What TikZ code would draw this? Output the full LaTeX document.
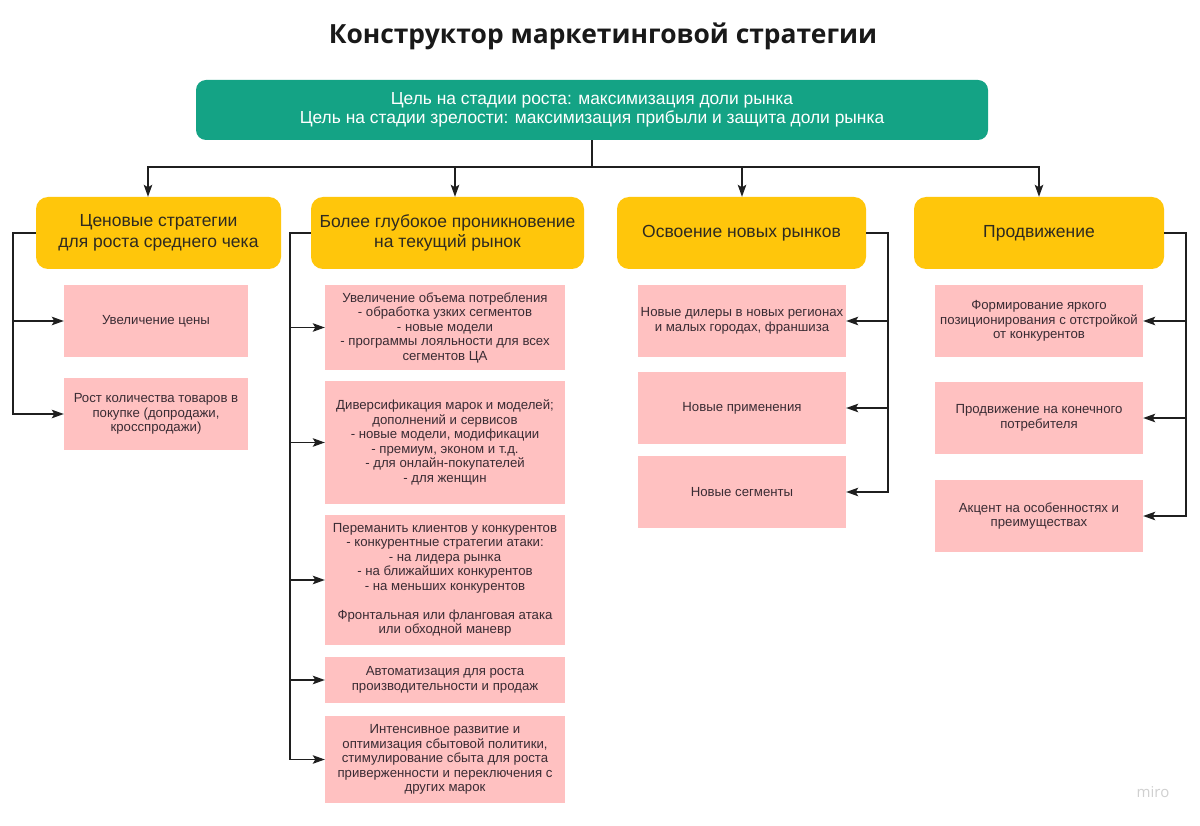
\documentclass[tikz,border=0pt]{standalone}
\usepackage{fontspec}
\setmainfont{Liberation Sans}
\newfontfamily\titlefont{Open Sans}
\usetikzlibrary{arrows.meta,calc}
\definecolor{topgreen}{HTML}{14A385}
\definecolor{ybox}{HTML}{FFC60B}
\definecolor{pbox}{HTML}{FFC1C1}
\definecolor{ptext}{HTML}{3A2C34}
\definecolor{ytext}{HTML}{2E2A20}
\definecolor{mirogray}{HTML}{D0D0D0}
\tikzset{
  arr/.style={draw=black!88, line width=1.6pt, -{Stealth[length=12pt,width=8.5pt,inset=2.5pt]}},
  topbox/.style={fill=topgreen, rounded corners=10pt, minimum width=792pt, minimum height=60pt, text=white, font=\fontsize{17.4}{19}\selectfont, align=center},
  ybox/.style={fill=ybox, rounded corners=12pt, minimum height=72pt, text=ytext, font=\fontsize{17.5}{20.5}\selectfont, align=center, inner sep=0pt},
  pbox/.style={fill=pbox, text=ptext, font=\fontsize{13.2}{14.5}\selectfont, align=center, inner sep=0pt},
}
\begin{document}
\begin{tikzpicture}[x=1pt,y=-1pt]
\useasboundingbox (0,0) rectangle (1200,826);
\fill[white] (0,0) rectangle (1200,826);

\node[font=\titlefont\bfseries\fontsize{26.4}{30}\selectfont, text=black!90] (title) at (603,36) {Конструктор маркетинговой стратегии};

\node[topbox] (top) at (592,110) {Цель на стадии роста: максимизация доли рынка\\Цель на стадии зрелости: максимизация прибыли и защита доли рынка};

\node[ybox, minimum width=245pt] (y1) at (158.5,233) {Ценовые стратегии\\для роста среднего чека};
\node[ybox, minimum width=273pt] (y2) at (447.5,233) {Более глубокое проникновение\\на текущий рынок};
\node[ybox, minimum width=249pt] (y3) at (741.5,233) {Освоение новых рынков};
\node[ybox, minimum width=250pt] (y4) at (1039,233) {Продвижение};

\coordinate (hub) at ($(top.south)+(0,27)$);
\draw[arr] (top.south) -- (hub) -| ([xshift=-10.5pt]y1.north);
\draw[arr] (hub) -| ([xshift=7.5pt]y2.north);
\draw[arr] (hub) -| ([xshift=0.5pt]y3.north);
\draw[arr] (hub) -| (y4.north);

% column 1
\node[pbox, minimum width=184pt, minimum height=72pt] (p11) at (156,321) {Увеличение цены};
\node[pbox, minimum width=184pt, minimum height=72pt] (p12) at (156,414) {Рост количества товаров в\\покупке (допродажи,\\кросспродажи)};
\coordinate (c1) at ($(y1.west)+(-23,0)$);
\draw[arr] (y1.west) -- (c1) |- (p11.west);
\draw[arr] (c1) |- (p12.west);

% column 2
\node[pbox, minimum width=240pt, minimum height=85pt] (p21) at (445,327.5) {Увеличение объема потребления\\- обработка узких сегментов\\- новые модели\\- программы лояльности для всех\\сегментов ЦА};
\node[pbox, minimum width=240pt, minimum height=123pt] (p22) at (445,442.5) {Диверсификация марок и моделей;\\дополнений и сервисов\\- новые модели, модификации\\- премиум, эконом и т.д.\\- для онлайн-покупателей\\- для женщин};
\node[pbox, minimum width=240pt, minimum height=130pt] (p23) at (445,580) {Переманить клиентов у конкурентов\\- конкурентные стратегии атаки:\\- на лидера рынка\\- на ближайших конкурентов\\- на меньших конкурентов\\[14.5pt]Фронтальная или фланговая атака\\или обходной маневр};
\node[pbox, minimum width=240pt, minimum height=46pt] (p24) at (445,680) {Автоматизация для роста\\производительности и продаж};
\node[pbox, minimum width=240pt, minimum height=87pt] (p25) at (445,759.5) {Интенсивное развитие и\\оптимизация сбытовой политики,\\стимулирование сбыта для роста\\приверженности и переключения с\\других марок};
\coordinate (c2) at ($(y2.west)+(-21,0)$);
\draw[arr] (y2.west) -- (c2) |- (p21.west);
\draw[arr] (c2) |- (p22.west);
\draw[arr] (c2) |- (p23.west);
\draw[arr] (c2) |- (p24.west);
\draw[arr] (c2) |- (p25.west);

% column 3
\node[pbox, minimum width=208pt, minimum height=72pt] (p31) at (742,321) {Новые дилеры в новых регионах\\и малых городах, франшиза};
\node[pbox, minimum width=208pt, minimum height=72pt] (p32) at (742,408) {Новые применения};
\node[pbox, minimum width=208pt, minimum height=72pt] (p33) at (742,492) {Новые сегменты};
\coordinate (c3) at ($(y3.east)+(22,0)$);
\draw[arr] (y3.east) -- (c3) |- (p31.east);
\draw[arr] (c3) |- (p32.east);
\draw[arr] (c3) |- (p33.east);

% column 4
\node[pbox, minimum width=208pt, minimum height=72pt] (p41) at (1039,321) {Формирование яркого\\позиционирования с отстройкой\\от конкурентов};
\node[pbox, minimum width=208pt, minimum height=72pt] (p42) at (1039,418) {Продвижение на конечного\\потребителя};
\node[pbox, minimum width=208pt, minimum height=72pt] (p43) at (1039,516) {Акцент на особенностях и\\преимуществах};
\coordinate (c4) at ($(y4.east)+(22,0)$);
\draw[arr] (y4.east) -- (c4) |- (p41.east);
\draw[arr] (c4) |- (p42.east);
\draw[arr] (c4) |- (p43.east);

\node[text=mirogray, font=\titlefont\fontsize{15}{18}\selectfont] (miro) at (1153,792) {miro};
\end{tikzpicture}
\end{document}
